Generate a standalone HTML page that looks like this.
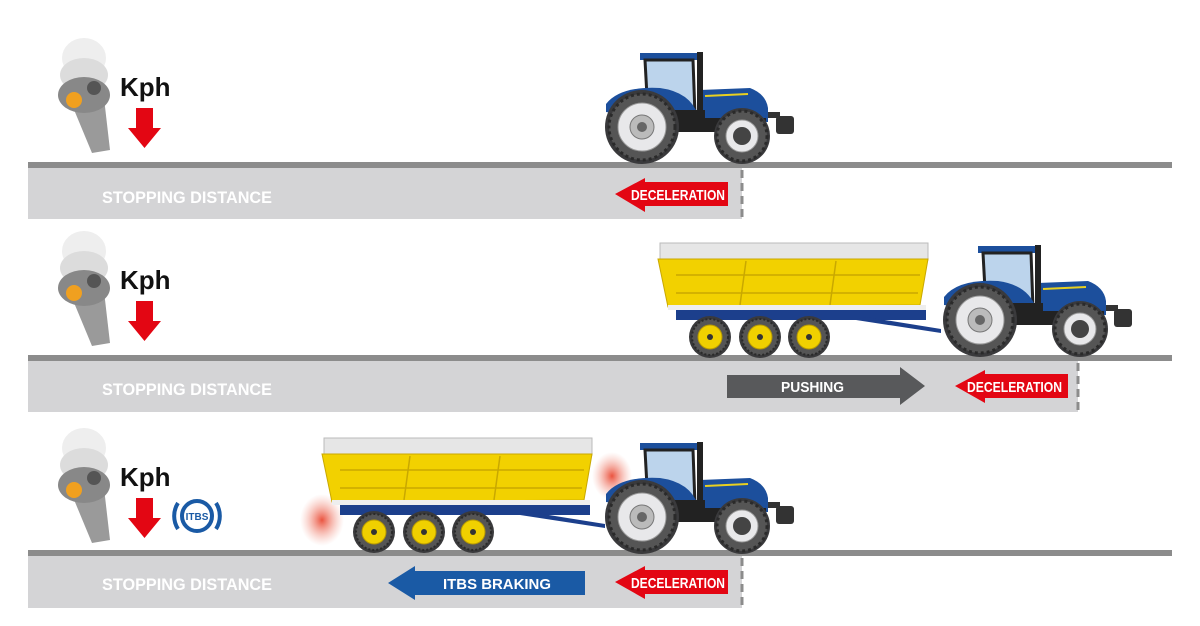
<!DOCTYPE html>
<html><head><meta charset="utf-8"><style>
html,body{margin:0;padding:0;background:#fff;width:1200px;height:626px;overflow:hidden}
text{font-family:"Liberation Sans",sans-serif;font-weight:bold}
</style></head><body>
<svg width="1200" height="626" viewBox="0 0 1200 626" xmlns="http://www.w3.org/2000/svg">
<defs>
<radialGradient id="glow" cx="0.5" cy="0.5" r="0.5">
<stop offset="0" stop-color="#e8402a" stop-opacity="0.9"/><stop offset="1" stop-color="#f3a090" stop-opacity="0"/></radialGradient>
<g id="wheelBig">
<circle r="37" fill="#3a3a3c"/><circle r="33" fill="#555" stroke="#2a2a2a" stroke-width="3" stroke-dasharray="3 3"/>
<circle r="24" fill="#e8e8ea" stroke="#999"/><circle r="12" fill="#bbb" stroke="#777"/><circle r="5" fill="#666"/>
</g>
<g id="wheelSmall">
<circle r="28" fill="#3a3a3c"/><circle r="25" fill="#555" stroke="#2a2a2a" stroke-width="3" stroke-dasharray="3 3"/>
<circle r="16" fill="#e8e8ea" stroke="#999"/><circle r="9" fill="#444"/>
</g>
<g id="twheel">
<circle r="21" fill="#3a3a3c"/><circle r="18" fill="#555" stroke="#2a2a2a" stroke-width="2" stroke-dasharray="2 2"/>
<circle r="12" fill="#f0d000" stroke="#b89a00"/><circle r="3" fill="#333"/>
</g>
<g id="tractor">
<rect x="762" y="112" width="18" height="6" fill="#333"/>
<rect x="776" y="116" width="18" height="18" rx="3" fill="#333"/>
<path d="M700 90 L750 88 Q766 94 768 108 L768 122 L700 124 Z" fill="#1c4f9c"/>
<path d="M705 96 L748 94" stroke="#e8d020" stroke-width="2"/>
<rect x="700" y="118" width="66" height="14" fill="#222"/>
<path d="M640 53 L700 53 L700 60 L640 60 Z" fill="#1c4f9c"/>
<path d="M645 60 L693 60 L695 115 L648 115 Z" fill="#bcd4ec" stroke="#222" stroke-width="3"/>
<rect x="697" y="52" width="6" height="72" fill="#222"/>
<path d="M606 104 Q620 86 660 88 Q690 92 698 115 L698 125 L606 112 Z" fill="#1c4f9c"/>
<rect x="660" y="110" width="45" height="22" fill="#222"/>
<use href="#wheelBig" x="642" y="127"/>
<use href="#wheelSmall" x="742" y="136"/>
</g>
<g id="trailer">
<rect x="324" y="438" width="268" height="17" fill="#e6e6e6" stroke="#bbb"/>
<path d="M322 454 L592 454 L584 500 L332 502 Z" fill="#f2d100" stroke="#c9a800"/>
<path d="M340 470 L584 470 M340 488 L582 488 M410 456 L404 500 M500 456 L494 500" stroke="#c9a800" stroke-width="1.5"/>
<rect x="332" y="500" width="258" height="5" fill="#eee"/>
<rect x="340" y="505" width="250" height="10" fill="#1c3f8c"/>
<path d="M520 515 L605 528 L605 524 L530 512 Z" fill="#1c3f8c"/>
<use href="#twheel" x="374" y="532"/>
<use href="#twheel" x="424" y="532"/>
<use href="#twheel" x="473" y="532"/>
</g>
<g id="joy">
<ellipse cx="84" cy="58" rx="22" ry="20" fill="#eeeeee"/>
<ellipse cx="84" cy="75" rx="24" ry="17" fill="#dcdcdc"/>
<path d="M70 100 L104 98 L110 150 L92 153 Z" fill="#9a9a9a"/>
<ellipse cx="84" cy="95" rx="26" ry="18" fill="#888"/>
<circle cx="74" cy="100" r="8" fill="#f0a020"/><circle cx="94" cy="88" r="7" fill="#555"/>
</g>
<g id="kph">
<text x="120" y="96" font-size="26" fill="#111">Kph</text>
<polygon points="136,108 153,108 153,128 161,128 144.5,148 128,128 136,128" fill="#e30613"/>
</g>
</defs>

<rect x="28" y="168" width="714" height="51" fill="#d4d4d6"/>
<rect x="28" y="162" width="1144" height="6" fill="#8c8c8c"/>
<line x1="742" y1="170" x2="742" y2="219" stroke="#8c8c8c" stroke-width="3" stroke-dasharray="8 5"/>
<text x="102" y="203" font-size="17" fill="#fff" textLength="170" lengthAdjust="spacingAndGlyphs">STOPPING DISTANCE</text>
<polygon points="615,194 645,178 645,182 728,182 728,206 645,206 645,212" fill="#e30613"/>
<text x="631" y="200" font-size="15" fill="#fff" textLength="94" lengthAdjust="spacingAndGlyphs">DECELERATION</text>
<use href="#tractor"/>
<use href="#joy"/><use href="#kph"/>

<rect x="28" y="361" width="1050" height="51" fill="#d4d4d6"/>
<rect x="28" y="355" width="1144" height="6" fill="#8c8c8c"/>
<line x1="1078" y1="363" x2="1078" y2="412" stroke="#8c8c8c" stroke-width="3" stroke-dasharray="8 5"/>
<text x="102" y="395" font-size="17" fill="#fff" textLength="170" lengthAdjust="spacingAndGlyphs">STOPPING DISTANCE</text>
<polygon points="727,375 900,375 900,367 925,386 900,405 900,398 727,398" fill="#58595b"/>
<text x="781" y="392" font-size="15" fill="#fff" textLength="63" lengthAdjust="spacingAndGlyphs">PUSHING</text>
<polygon points="955,386 985,370 985,374 1068,374 1068,398 985,398 985,403" fill="#e30613"/>
<text x="967" y="392" font-size="15" fill="#fff" textLength="95" lengthAdjust="spacingAndGlyphs">DECELERATION</text>
<use href="#trailer" transform="translate(336,-195)"/>
<use href="#tractor" transform="translate(338,193)"/>
<use href="#joy" transform="translate(0,193)"/><use href="#kph" transform="translate(0,193)"/>

<rect x="28" y="556" width="714" height="52" fill="#d4d4d6"/>
<rect x="28" y="550" width="1144" height="6" fill="#8c8c8c"/>
<line x1="742" y1="558" x2="742" y2="608" stroke="#8c8c8c" stroke-width="3" stroke-dasharray="8 5"/>
<text x="102" y="590" font-size="17" fill="#fff" textLength="170" lengthAdjust="spacingAndGlyphs">STOPPING DISTANCE</text>
<polygon points="388,583 415,566 415,571 585,571 585,595 415,595 415,600" fill="#1a5aa5"/>
<text x="443" y="589" font-size="15" fill="#fff" textLength="108" lengthAdjust="spacingAndGlyphs">ITBS BRAKING</text>
<polygon points="615,582 645,566 645,570 728,570 728,594 645,594 645,599" fill="#e30613"/>
<text x="631" y="588" font-size="15" fill="#fff" textLength="94" lengthAdjust="spacingAndGlyphs">DECELERATION</text>
<ellipse cx="322" cy="520" rx="22" ry="26" fill="url(#glow)"/>
<ellipse cx="612" cy="476" rx="20" ry="24" fill="url(#glow)"/>
<use href="#trailer"/>
<use href="#tractor" transform="translate(0,390)"/>
<use href="#joy" transform="translate(0,390)"/><use href="#kph" transform="translate(0,390)"/>
<circle cx="197" cy="516" r="15" fill="none" stroke="#1a5aa5" stroke-width="4"/>
<text x="197" y="520" font-size="10" fill="#1a5aa5" text-anchor="middle">ITBS</text>
<path d="M178 503 A24 24 0 0 0 178 529" fill="none" stroke="#1a5aa5" stroke-width="4"/>
<path d="M216 503 A24 24 0 0 1 216 529" fill="none" stroke="#1a5aa5" stroke-width="4"/>
</svg>
</body></html>
